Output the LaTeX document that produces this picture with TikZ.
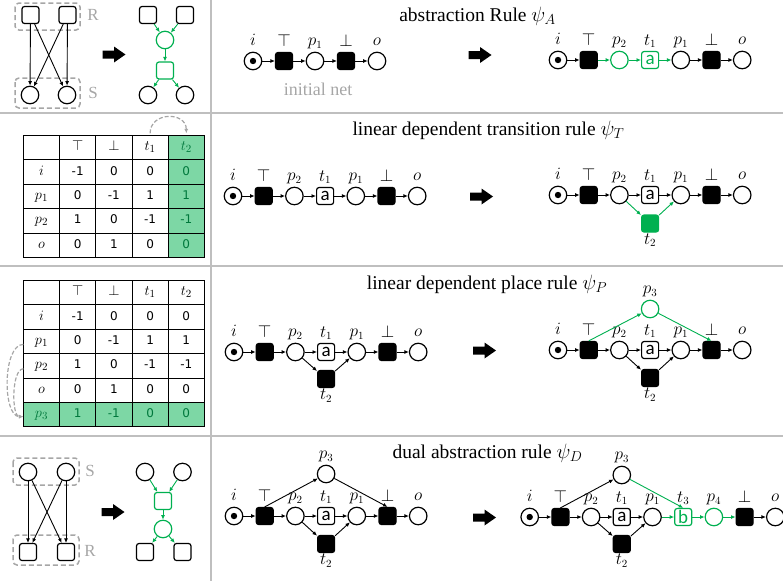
\documentclass[tikz,border=0pt]{standalone}
\usepackage{amssymb,amsmath}
\usepackage{fontspec}
\setmainfont{Liberation Serif}
\newfontfamily\tabfont{DejaVu Sans}
\newfontfamily\calfont{Carlito}
\usetikzlibrary{arrows.meta,matrix}
\definecolor{grn}{RGB}{0,176,80}
\definecolor{cellgrn}{RGB}{125,215,165}
\definecolor{darkgrn}{RGB}{0,120,60}
\definecolor{dashgray}{RGB}{166,166,166}
\definecolor{linegray}{RGB}{191,191,191}
\newcommand{\blockarrow}[2]{\fill[black,shift={(#1,#2)}] (-11.5,-4) -- (0,-4) -- (0,-8) -- (11.5,0) -- (0,8) -- (0,4) -- (-11.5,4) -- cycle;}
\newcommand{\cellm}[1]{{\fontsize{15}{15}\selectfont$#1$}}

\begin{document}
\begin{tikzpicture}[x=1pt,y=-1pt,>={Latex[length=4.5pt,width=4pt]},label distance=2.5pt]
\tikzstyle{place}=[circle,draw,line width=1.2pt,minimum size=17.5pt,inner sep=0pt]
\tikzstyle{trans}=[rectangle,rounded corners=2.5pt,draw,fill=black,line width=1.2pt,minimum size=17pt,inner sep=0pt]
\tikzstyle{box}=[trans,fill=white]
\tikzstyle{ltrans}=[box,font=\calfont\fontsize{19}{19}\selectfont]
\tikzstyle{marked}=[place,path picture={\fill (path picture bounding box.center) circle (3.2pt);}]
\tikzstyle{arc}=[->,line width=0.9pt]
\tikzstyle{garc}=[arc,color=grn]
\tikzstyle{every label}=[font=\fontsize{16}{16}\selectfont,inner sep=0pt,text height=9pt,text depth=3pt]
\tikzstyle{title}=[font=\fontsize{19.5}{22}\selectfont,anchor=base,inner sep=0pt]
\tikzstyle{sketchbox}=[draw=dashgray,line width=1.5pt,rounded corners=4pt,dash pattern=on 5pt off 3pt]
\tikzstyle{setlabel}=[text=dashgray,font=\fontsize{17}{17}\selectfont,inner sep=0pt]
\tikzstyle{gdash}=[dashgray,line width=1.2pt,dash pattern=on 4pt off 2pt,->]
\tikzstyle{divider}=[draw=linegray,line width=1.5pt]
\tikzstyle{tab}=[matrix of nodes,nodes in empty cells,inner sep=0pt,outer sep=0pt,anchor=north west,
  column sep=-0.8pt,row sep=-0.8pt,
  nodes={draw,anchor=center,line width=0.8pt,minimum width=36.2pt,minimum height=24.4pt,inner sep=0pt,
  text height=9pt,text depth=3pt,font=\tabfont\fontsize{12}{12}\selectfont}]

\useasboundingbox (0,0) rectangle (783,581);

% panel frame
\draw[divider] (211,0) -- (211,581);
\draw[divider] (0,113) -- (783,113);
\draw[divider] (0,266) -- (783,266);
\draw[divider] (0,436) -- (783,436);

% ---- abstraction rule ----
\draw[sketchbox] (15,3) rectangle (80,30);
\draw[sketchbox] (15,78) rectangle (80,108);
\node[setlabel] (lblR) at (93,15) {R};
\node[setlabel] (lblS) at (93,93) {S};
\node[box] (r1) at (30.5,15) {};
\node[box] (r2) at (67.5,15) {};
\node[place] (s1) at (30,95) {};
\node[place] (s2) at (67,95) {};
\foreach \a/\b in {r1/s1,r1/s2,r2/s1,r2/s2} \draw[arc] (\a) -- (\b);
\blockarrow{114}{54.5}
\node[box] (r3) at (148,15) {};
\node[box] (r4) at (185,15) {};
\node[place,draw=grn] (gp) at (165,40) {};
\node[box,draw=grn] (gt) at (165,70.5) {};
\node[place] (s3) at (148,95) {};
\node[place] (s4) at (185,95) {};
\foreach \a/\b in {r3/gp,r4/gp,gp/gt,gt/s3,gt/s4} \draw[garc] (\a) -- (\b);

\node[title] (titleA) at (477.5,21) {abstraction Rule $\psi_A$};
\node[marked,label=above:$i$] (n0i) at (253,61) {};
\node[trans,label=above:$\top$] (n0top) at (284,61) {};
\node[place,label=above:$p_1$] (n0p1) at (315,61) {};
\node[trans,label=above:$\bot$] (n0bot) at (346,61) {};
\node[place,label=above:$o$] (n0o) at (377,61) {};
\foreach \a/\b in {n0i/n0top,n0top/n0p1,n0p1/n0bot,n0bot/n0o} \draw[arc] (\a) -- (\b);
\node[text=dashgray,font=\fontsize{18}{18}\selectfont] (init) at (318,89) {initial net};
\blockarrow{480}{55}
\node[marked,label=above:$i$] (n1i) at (558,60) {};
\node[trans,label=above:$\top$] (n1top) at (588.7,60) {};
\node[place,draw=grn,label=above:$p_2$] (n1p2) at (619.4,60) {};
\node[ltrans,draw=grn,text=grn,label=above:$t_1$] (n1t1) at (650.1,60) {a};
\node[place,label=above:$p_1$] (n1p1) at (680.8,60) {};
\node[trans,label=above:$\bot$] (n1bot) at (711.5,60) {};
\node[place,label=above:$o$] (n1o) at (742.2,60) {};
\foreach \a/\b in {n1i/n1top,n1p1/n1bot,n1bot/n1o} \draw[arc] (\a) -- (\b);
\foreach \a/\b in {n1top/n1p2,n1p2/n1t1,n1t1/n1p1} \draw[garc] (\a) -- (\b);

% ---- linear dependent transition rule ----
\matrix[tab,column 5/.style={nodes={fill=cellgrn,text=darkgrn}}] (tabA) at (23,135) {
             & \cellm{\top} & \cellm{\bot} & \cellm{t_1} & \cellm{t_2} \\
\cellm{i}    & -1 & 0  & 0  & 0  \\
\cellm{p_1}  & 0  & -1 & 1  & 1  \\
\cellm{p_2}  & 1  & 0  & -1 & -1 \\
\cellm{o}    & 0  & 1  & 0  & 0  \\
};
\draw[gdash] ([yshift=2pt]tabA-1-4.north) .. controls +(0,-22) and +(0,-22) .. ([yshift=2pt]tabA-1-5.north);

\node[title] (titleT) at (488.5,135) {linear dependent transition rule $\psi_T$};
\node[marked,label=above:$i$] (n2i) at (233,196) {};
\node[trans,label=above:$\top$] (n2top) at (263.7,196) {};
\node[place,label=above:$p_2$] (n2p2) at (294.4,196) {};
\node[ltrans,label=above:$t_1$] (n2t1) at (325.1,196) {a};
\node[place,label=above:$p_1$] (n2p1) at (355.8,196) {};
\node[trans,label=above:$\bot$] (n2bot) at (386.5,196) {};
\node[place,label=above:$o$] (n2o) at (417.2,196) {};
\foreach \a/\b in {n2i/n2top,n2top/n2p2,n2p2/n2t1,n2t1/n2p1,n2p1/n2bot,n2bot/n2o} \draw[arc] (\a) -- (\b);
\blockarrow{481.5}{196.5}
\node[marked,label=above:$i$] (n3i) at (558,195) {};
\node[trans,label=above:$\top$] (n3top) at (588.7,195) {};
\node[place,label=above:$p_2$] (n3p2) at (619.4,195) {};
\node[ltrans,label=above:$t_1$] (n3t1) at (650.1,195) {a};
\node[place,label=above:$p_1$] (n3p1) at (680.8,195) {};
\node[trans,label=above:$\bot$] (n3bot) at (711.5,195) {};
\node[place,label=above:$o$] (n3o) at (742.2,195) {};
\node[trans,fill=grn,draw=grn,label=below:$t_2$] (n3t2) at (650.1,223.5) {};
\foreach \a/\b in {n3i/n3top,n3top/n3p2,n3p2/n3t1,n3t1/n3p1,n3p1/n3bot,n3bot/n3o} \draw[arc] (\a) -- (\b);
\draw[garc] (n3p2) -- (n3t2);
\draw[garc] (n3t2) -- (n3p1);

% ---- linear dependent place rule ----
\matrix[tab,row 6/.style={nodes={fill=cellgrn,text=darkgrn}}] (tabB) at (23,280) {
             & \cellm{\top} & \cellm{\bot} & \cellm{t_1} & \cellm{t_2} \\
\cellm{i}    & -1 & 0  & 0  & 0  \\
\cellm{p_1}  & 0  & -1 & 1  & 1  \\
\cellm{p_2}  & 1  & 0  & -1 & -1 \\
\cellm{o}    & 0  & 1  & 0  & 0  \\
\cellm{p_3}  & 1  & -1 & 0  & 0  \\
};
\draw[gdash] ([yshift=-3pt]tabB-3-1.west) .. controls +(-21,0) and +(-21,0) .. ([yshift=-2pt]tabB-6-1.west);
\draw[gdash] ([yshift=-3pt]tabB-4-1.west) .. controls +(-12,0) and +(-12,0) .. ([yshift=-2pt]tabB-6-1.west);

\node[title] (titleP) at (487,289) {linear dependent place rule $\psi_P$};
\node[marked,label=above:$i$] (n4i) at (234,352) {};
\node[trans,label=above:$\top$] (n4top) at (264.7,352) {};
\node[place,label=above:$p_2$] (n4p2) at (295.4,352) {};
\node[ltrans,label=above:$t_1$] (n4t1) at (326.1,352) {a};
\node[place,label=above:$p_1$] (n4p1) at (356.8,352) {};
\node[trans,label=above:$\bot$] (n4bot) at (387.5,352) {};
\node[place,label=above:$o$] (n4o) at (418.2,352) {};
\node[trans,label=below:$t_2$] (n4t2) at (326.1,379) {};
\foreach \a/\b in {n4i/n4top,n4top/n4p2,n4p2/n4t1,n4t1/n4p1,n4p1/n4bot,n4bot/n4o,n4p2/n4t2,n4t2/n4p1} \draw[arc] (\a) -- (\b);
\blockarrow{484.5}{350.5}
\node[marked,label=above:$i$] (n5i) at (558,350) {};
\node[trans,label=above:$\top$] (n5top) at (588.7,350) {};
\node[place,label=above:$p_2$] (n5p2) at (619.4,350) {};
\node[ltrans,label=above:$t_1$] (n5t1) at (650.1,350) {a};
\node[place,label=above:$p_1$] (n5p1) at (680.8,350) {};
\node[trans,label=above:$\bot$] (n5bot) at (711.5,350) {};
\node[place,label=above:$o$] (n5o) at (742.2,350) {};
\node[place,draw=grn,label=above:$p_3$] (n5p3) at (650.1,309) {};
\node[trans,label=below:$t_2$] (n5t2) at (650.1,378) {};
\foreach \a/\b in {n5i/n5top,n5top/n5p2,n5p2/n5t1,n5t1/n5p1,n5p1/n5bot,n5bot/n5o,n5p2/n5t2,n5t2/n5p1} \draw[arc] (\a) -- (\b);
\draw[garc] (n5top.north) -- (n5p3);
\draw[garc] (n5p3) -- (n5bot.north);

% ---- dual abstraction rule ----
\draw[sketchbox] (13,458) rectangle (79,485);
\draw[sketchbox] (13,535) rectangle (79,565);
\node[setlabel] (lblS2) at (90,471) {S};
\node[setlabel] (lblR2) at (90,551) {R};
\node[place] (s5) at (28,472) {};
\node[place] (s6) at (66,472) {};
\node[box] (r5) at (28,552) {};
\node[box] (r6) at (66,552) {};
\foreach \a/\b in {s5/r5,s5/r6,s6/r5,s6/r6} \draw[arc] (\a) -- (\b);
\blockarrow{113}{512}
\node[place] (s7) at (145,472) {};
\node[place] (s8) at (182.5,472) {};
\node[box,draw=grn] (gt2) at (163,501) {};
\node[place,draw=grn] (gp2) at (163,529) {};
\node[box] (r7) at (145,552) {};
\node[box] (r8) at (182.5,552) {};
\foreach \a/\b in {s7/gt2,s8/gt2,gt2/gp2,gp2/r7,gp2/r8} \draw[garc] (\a) -- (\b);

\node[title] (titleD) at (487.5,458) {dual abstraction rule $\psi_D$};
\node[marked,label=above:$i$] (n6i) at (234,516) {};
\node[trans,label=above:$\top$] (n6top) at (264.7,516) {};
\node[place,label=above:$p_2$] (n6p2) at (295.4,516) {};
\node[ltrans,label=above:$t_1$] (n6t1) at (326.1,516) {a};
\node[place,label=above:$p_1$] (n6p1) at (356.8,516) {};
\node[trans,label=above:$\bot$] (n6bot) at (387.5,516) {};
\node[place,label=above:$o$] (n6o) at (418.2,516) {};
\node[place,label=above:$p_3$] (n6p3) at (326.1,474) {};
\node[trans,label=below:$t_2$] (n6t2) at (326.1,544) {};
\foreach \a/\b in {n6i/n6top,n6top/n6p2,n6p2/n6t1,n6t1/n6p1,n6p1/n6bot,n6bot/n6o,n6p2/n6t2,n6t2/n6p1} \draw[arc] (\a) -- (\b);
\draw[arc] (n6top.north) -- (n6p3);
\draw[arc] (n6p3) -- (n6bot.north);
\blockarrow{484.5}{517.5}
\node[marked,label=above:$i$] (n7i) at (529.7,517) {};
\node[trans,label=above:$\top$] (n7top) at (560.4,517) {};
\node[place,label=above:$p_2$] (n7p2) at (591.1,517) {};
\node[ltrans,label=above:$t_1$] (n7t1) at (621.8,517) {a};
\node[place,label=above:$p_1$] (n7p1) at (652.5,517) {};
\node[ltrans,draw=grn,text=grn,label=above:$t_3$] (n7t3) at (683.2,517) {b};
\node[place,draw=grn,label=above:$p_4$] (n7p4) at (713.9,517) {};
\node[trans,label=above:$\bot$] (n7bot) at (744.6,517) {};
\node[place,label=above:$o$] (n7o) at (775.3,517) {};
\node[place,label=above:$p_3$] (n7p3) at (621.8,475) {};
\node[trans,label=below:$t_2$] (n7t2) at (621.8,544) {};
\foreach \a/\b in {n7i/n7top,n7top/n7p2,n7p2/n7t1,n7t1/n7p1,n7bot/n7o,n7p2/n7t2,n7t2/n7p1} \draw[arc] (\a) -- (\b);
\draw[arc] (n7top.north) -- (n7p3);
\foreach \a/\b in {n7p1/n7t3,n7t3/n7p4,n7p4/n7bot} \draw[garc] (\a) -- (\b);
\draw[garc] (n7p3) -- (n7t3.north);

\end{tikzpicture}
\end{document}
